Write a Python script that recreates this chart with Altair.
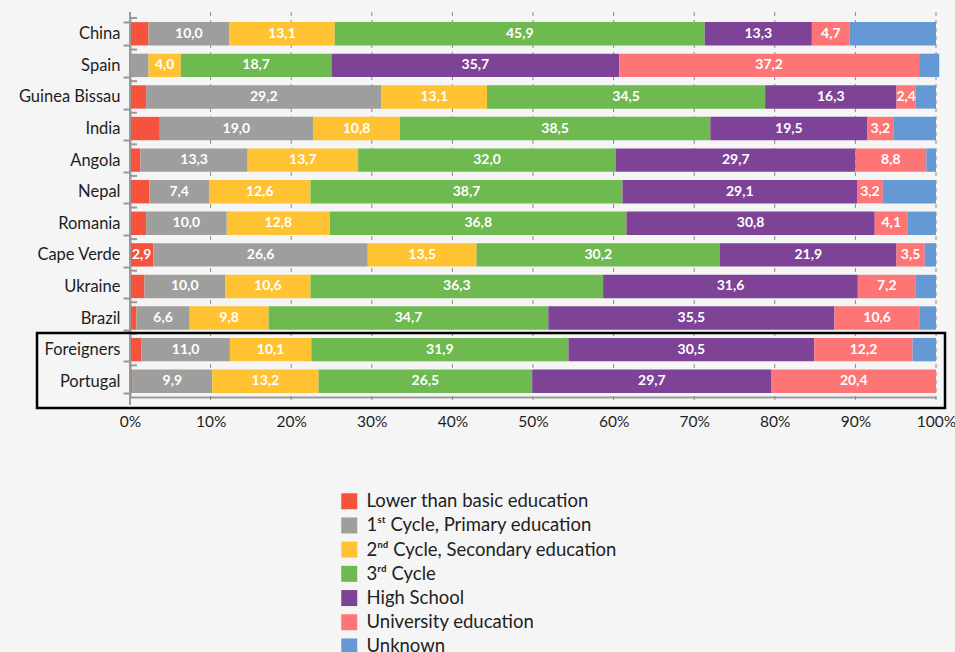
import altair as alt
import pandas as pd

countries = ["China", "Spain", "Guinea Bissau", "India", "Angola", "Nepal", "Romania",
             "Cape Verde", "Ukraine", "Brazil", "Foreigners", "Portugal"]

categories = ["Lower than basic education", "1ˢᵗ Cycle, Primary education",
              "2ⁿᵈ Cycle, Secondary education", "3ʳᵈ Cycle", "High School",
              "University education", "Unknown"]
colors = ["#f5533d", "#9e9e9c", "#ffc233", "#6eb950", "#7e4296", "#fe7575", "#6499d5"]

lower = [2.3, 0.0, 2.0, 3.7, 1.3, 2.4, 2.0, 2.9, 1.8, 0.8, 1.4, 0.3]
first = [10.0, 2.3, 29.2, 19.0, 13.3, 7.4, 10.0, 26.6, 10.0, 6.6, 11.0, 9.9]
second = [13.1, 4.0, 13.1, 10.8, 13.7, 12.6, 12.8, 13.5, 10.6, 9.8, 10.1, 13.2]
third = [45.9, 18.7, 34.5, 38.5, 32.0, 38.7, 36.8, 30.2, 36.3, 34.7, 31.9, 26.5]
high = [13.3, 35.7, 16.3, 19.5, 29.7, 29.1, 30.8, 21.9, 31.6, 35.5, 30.5, 29.7]
univ = [4.7, 37.2, 2.4, 3.2, 8.8, 3.2, 4.1, 3.5, 7.2, 10.6, 12.2, 20.4]
unknown = [10.7, 2.5, 2.5, 5.3, 1.2, 6.6, 3.5, 1.4, 2.5, 2.0, 2.9, 0.0]

grid_values = [10, 20, 30, 40, 50, 60, 70, 80, 90, 100]
tick_values = [0, 10, 20, 30, 40, 50, 60, 70, 80, 90, 100]

series = [lower, first, second, third, high, univ, unknown]
labeled_lower = ["Cape Verde"]

rows = []
for ci, c in enumerate(countries):
    start = 0.0
    for k, (cat, vals) in enumerate(zip(categories, series)):
        v = vals[ci]
        end = start + v
        show = v >= 2.4 and cat != "Unknown" and (k != 0 or c in labeled_lower)
        label = f"{v:.1f}".replace(".", ",") if show else ""
        rows.append(dict(country=c, cat=cat, order=k, start=start, end=end,
                         mid=(start + end) / 2, v=v, label=label))
        start = end
df = pd.DataFrame(rows)

H = 379
yscale = alt.Scale(paddingInner=0.26, paddingOuter=0.13)
yaxis = alt.Axis(title=None, domainColor="#999999", domainWidth=2, tickColor="#999999",
                 tickWidth=2, tickSize=7, tickBand="extent", labelFontSize=16.5,
                 labelFont="Lato", labelColor="#1e1e1e", labelPadding=3, grid=False)
xaxis = alt.Axis(title=None, values=tick_values, labelExpr="datum.value + '%'",
                 grid=False, domainColor="#999999", domainWidth=2, ticks=False,
                 labelFontSize=15.5, labelFont="Lato", labelColor="#1e1e1e",
                 labelPadding=17, labelFlush=False)
xscale = alt.Scale(domain=[0, 100], nice=False)

grid = alt.Chart(pd.DataFrame({"start": grid_values})).mark_rule(
    color="#8a8a8a", strokeWidth=1, strokeDash=[4, 4]).encode(
    x=alt.X("start:Q", scale=xscale, axis=xaxis),
    y=alt.value(-6), y2=alt.value(H + 3),
)
axis_ext = alt.Chart(pd.DataFrame({"start": [0]})).mark_rule(
    color="#999999", strokeWidth=2).encode(
    x=alt.X("start:Q", scale=xscale, axis=xaxis),
    y=alt.value(-6), y2=alt.value(H + 8),
)

base = alt.Chart(df)
bars = base.mark_bar().encode(
    x=alt.X("start:Q", scale=xscale, axis=xaxis),
    x2="end:Q",
    y=alt.Y("country:N", sort=countries, scale=yscale, axis=yaxis),
    color=alt.Color("cat:N", scale=alt.Scale(domain=categories, range=colors),
                    legend=alt.Legend(orient="none", legendX=210, legendY=474,
                                      direction="vertical", title=None,
                                      symbolType="square", symbolSize=256,
                                      symbolStrokeWidth=0, labelFontSize=18.5,
                                      labelFont="Lato", labelColor="#222222",
                                      rowPadding=5.2, labelOffset=8, labelLimit=400)),
)

text = base.transform_filter(alt.datum.label != "").mark_text(
    color="white", fontWeight="bold", fontSize=14, font="Lato",
    align="center", baseline="middle").encode(
    x=alt.X("mid:Q", scale=xscale, axis=xaxis),
    y=alt.Y("country:N", sort=countries),
    text="label:N",
)

tick_df = pd.DataFrame({"country": countries})
inner_ticks = alt.Chart(tick_df).mark_rule(color="#999999", strokeWidth=2).encode(
    y=alt.Y("country:N", sort=countries, bandPosition=0),
    yOffset=alt.value(-4.1),
    x=alt.value(0), x2=alt.value(7),
)
bottom_tick = alt.Chart(pd.DataFrame({"country": ["Portugal"]})).mark_rule(
    color="#999999", strokeWidth=2).encode(
    y=alt.Y("country:N", sort=countries, bandPosition=1),
    yOffset=alt.value(4.1),
    x=alt.value(0), x2=alt.value(7),
)

box = alt.Chart(pd.DataFrame({"a": [0]})).mark_rect(
    fill=None, fillOpacity=0, stroke="black", strokeWidth=2.5).encode(
    x=alt.value(-93), x2=alt.value(815), y=alt.value(315), y2=alt.value(390),
)

chart = alt.layer(grid, bars, text, axis_ext, inner_ticks, bottom_tick, box).properties(
    width=806, height=H,
    autosize=alt.AutoSizeParams(type="none"),
    padding={"left": 130, "top": 18, "right": 19, "bottom": 255},
    background="#f5f5f5",
).configure_view(stroke=None)

chart.save("out.html", embed_options={"renderer": "svg", "actions": False})
